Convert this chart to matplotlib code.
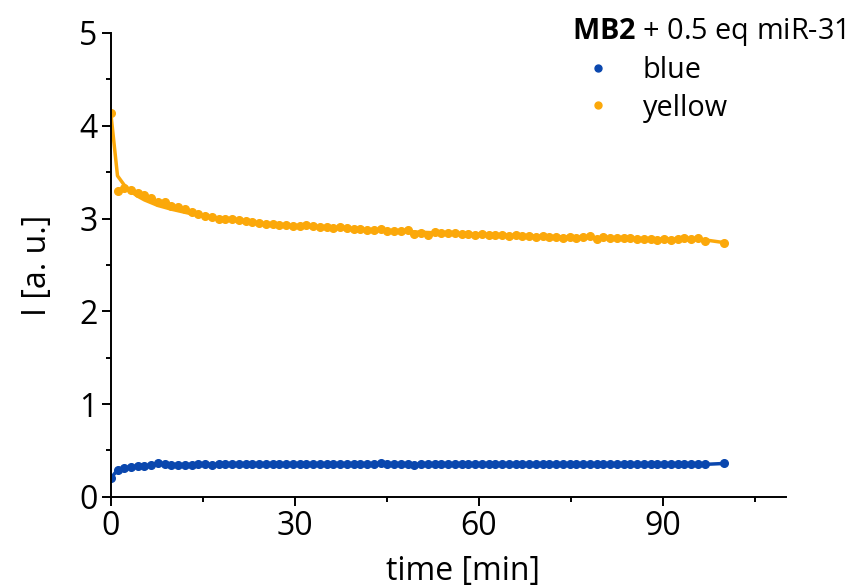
import numpy as np
import matplotlib
matplotlib.use('Agg')
import matplotlib.pyplot as plt

plt.rcParams['font.family'] = ['Open Sans', 'DejaVu Sans']
plt.rcParams['mathtext.fontset'] = 'custom'
plt.rcParams['mathtext.rm'] = 'Open Sans'
plt.rcParams['mathtext.bf'] = 'Open Sans:bold'

# sampling times (min): start, every 1.1 min, last reading at 100
time = [0.0] + [round(1.1 * k, 1) for k in range(1, 89)] + [100.0]

yellow = [4.14,
          3.30, 3.33, 3.31, 3.28, 3.25, 3.22, 3.18, 3.18, 3.13, 3.12,
          3.10, 3.07, 3.05, 3.03, 3.02, 3.00, 3.00, 2.99, 2.98, 2.97,
          2.96, 2.95, 2.94, 2.94, 2.93, 2.93, 2.92, 2.92, 2.93, 2.92,
          2.91, 2.91, 2.90, 2.91, 2.90, 2.89, 2.89, 2.88, 2.88, 2.89,
          2.87, 2.87, 2.86, 2.88, 2.83, 2.84, 2.82, 2.85, 2.84, 2.84,
          2.84, 2.83, 2.83, 2.82, 2.83, 2.82, 2.82, 2.82, 2.81, 2.82,
          2.81, 2.81, 2.80, 2.81, 2.80, 2.80, 2.79, 2.80, 2.79, 2.80,
          2.81, 2.78, 2.80, 2.79, 2.79, 2.79, 2.79, 2.78, 2.78, 2.78,
          2.77, 2.78, 2.77, 2.78, 2.79, 2.78, 2.79, 2.76,
          2.74]

blue = [0.20,
        0.29, 0.31, 0.32, 0.33, 0.33, 0.34, 0.36, 0.35, 0.345, 0.345,
        0.345, 0.345, 0.35, 0.35, 0.345, 0.35, 0.35, 0.35, 0.35, 0.35,
        0.35, 0.35, 0.355, 0.35, 0.35, 0.35, 0.35, 0.35, 0.355, 0.355,
        0.35, 0.355, 0.355, 0.355, 0.35, 0.355, 0.355, 0.355, 0.355, 0.36,
        0.355, 0.355, 0.355, 0.355, 0.34, 0.35, 0.35, 0.355, 0.355, 0.355,
        0.355, 0.355, 0.355, 0.355, 0.355, 0.35, 0.355, 0.355, 0.355, 0.355,
        0.355, 0.35, 0.355, 0.355, 0.355, 0.355, 0.35, 0.355, 0.35, 0.355,
        0.355, 0.355, 0.35, 0.355, 0.35, 0.355, 0.35, 0.35, 0.355, 0.35,
        0.35, 0.35, 0.35, 0.35, 0.35, 0.35, 0.35, 0.35,
        0.36]

# exponential fit of the yellow channel
fit_t = [0.0, 1.1, 2.2, 3.3, 4.4, 5.5, 7.7, 9.9, 13.2, 16.5, 22.0, 27.5,
         33.0, 44.0, 55.0, 66.0, 77.0, 88.0, 96.8, 100.0]
fit_y = [4.14, 3.46, 3.36, 3.29, 3.24, 3.20, 3.14, 3.10, 3.05, 3.01, 2.96,
         2.93, 2.91, 2.87, 2.84, 2.815, 2.795, 2.78, 2.77, 2.74]

c_blue = '#0A47AE'
c_yellow = '#FBA80A'

fig = plt.figure(figsize=(8.52, 5.88), dpi=100)
ax = fig.add_axes([0.130, 0.155, 0.792, 0.789])

ax.plot(time, blue, '-', color=c_blue, lw=2.5)
ax.plot(fit_t, fit_y, '-', color=c_yellow, lw=2.5)
ax.plot(time, blue, 'o', color=c_blue, ms=5.5, label='blue')
ax.plot(time, yellow, 'o', color=c_yellow, ms=5.5, label='yellow')

ax.set_xlim(0, 110)
ax.set_ylim(0, 5)
ax.set_xticks([0, 30, 60, 90])
ax.set_xticks([15, 45, 75, 105], minor=True)
ax.set_yticks([0, 1, 2, 3, 4, 5])
ax.set_yticks([0.5, 1.5, 2.5, 3.5, 4.5], minor=True)

for s in ['top', 'right']:
    ax.spines[s].set_visible(False)
for s in ['left', 'bottom']:
    ax.spines[s].set_linewidth(1.4)
ax.tick_params(which='major', length=6.5, width=1.4, labelsize=23, pad=3)
ax.tick_params(which='minor', length=3.5, width=1.4)

ax.set_xlabel('time [min]', fontsize=23)
ax.set_ylabel('I [a. u.]', fontsize=23)
ax.xaxis.set_label_coords(0.522, -0.125)
ax.yaxis.set_label_coords(-0.084, 0.5)

# legend header and entries
fig.text(0.993, 0.946, r'$\mathbf{MB2}$ + 0.5 eq miR-31', fontsize=20.8,
         ha='right', va='center')
leg = ax.legend(loc='upper left', bbox_to_anchor=(0.685, 0.905),
                bbox_transform=fig.transFigure, frameon=False, fontsize=20.8,
                handlelength=1.0, handletextpad=1.05, labelspacing=0.3,
                borderaxespad=0, borderpad=0)
for h in leg.legend_handles:
    h.set_markersize(5)

fig.savefig('out.png', dpi=100)
